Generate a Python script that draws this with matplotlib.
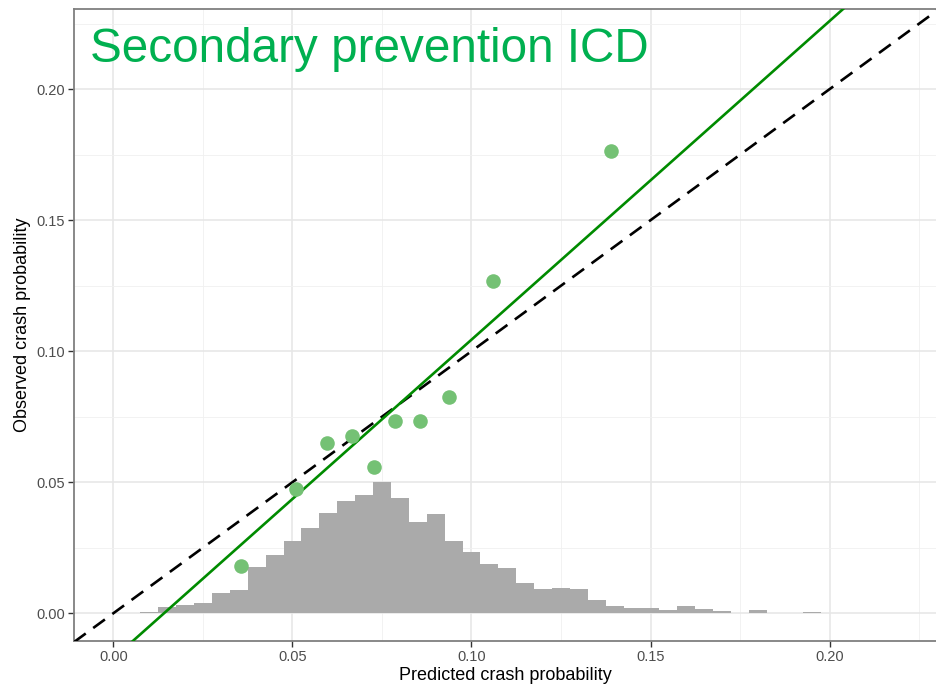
import matplotlib.pyplot as plt
from matplotlib.ticker import MultipleLocator

plt.rcParams['font.family'] = ['Liberation Sans', 'DejaVu Sans']

# Histogram of predicted probabilities (bin centres, heights)
bin_centers = [0.010, 0.015, 0.020, 0.025, 0.030, 0.035, 0.040, 0.045, 0.050, 0.055,
               0.060, 0.065, 0.070, 0.075, 0.080, 0.085, 0.090, 0.095, 0.100, 0.105,
               0.110, 0.115, 0.120, 0.125, 0.130, 0.135, 0.140, 0.145, 0.150, 0.155,
               0.160, 0.165, 0.170, 0.175, 0.180, 0.185, 0.190, 0.195, 0.200, 0.205,
               0.210, 0.215, 0.220]
bin_heights = [0.0004, 0.0022, 0.0032, 0.0038, 0.0079, 0.0089, 0.0178, 0.0221, 0.0275, 0.0324,
               0.0382, 0.0430, 0.0452, 0.0500, 0.0439, 0.0347, 0.0378, 0.0274, 0.0233, 0.0187,
               0.0171, 0.0117, 0.0092, 0.0095, 0.0094, 0.0051, 0.0029, 0.0019, 0.0020, 0.0013,
               0.0028, 0.0018, 0.0009, 0.0002, 0.0011, 0.0001, 0.0001, 0.0006, 0.0001, 0.0002,
               0.0002, 0.0001, 0.0002]
bin_width = 0.005

# Calibration points (decile groups)
pred = [0.0357, 0.0510, 0.0596, 0.0666, 0.0728, 0.0787, 0.0855, 0.0936, 0.1060, 0.1390]
obs = [0.0181, 0.0473, 0.0649, 0.0678, 0.0557, 0.0735, 0.0735, 0.0824, 0.1266, 0.1765]

# Fitted calibration line
cal_intercept = -0.0172
cal_slope = 1.216

title = 'Secondary prevention ICD'

fig = plt.figure(figsize=(9.37, 6.86), dpi=100)
ax = fig.add_axes([0.079, 0.0656, 0.921, 0.9213])

ax.bar(bin_centers, bin_heights, width=bin_width, color='#aaaaaa', linewidth=0, zorder=2)

xlim = (-0.011, 0.230)
ylim = (-0.0106, 0.2306)
ax.plot(xlim, xlim, color='black', linestyle=(0, (5.5, 3.5)), linewidth=1.9, zorder=3)
ax.plot(xlim, [cal_intercept + cal_slope * v for v in xlim], color='#008b00', linewidth=1.9, zorder=4)

ax.scatter(pred, obs, s=110, color='#74c174', linewidths=0, zorder=5)

ax.set_xlim(*xlim)
ax.set_ylim(*ylim)

ax.xaxis.set_major_locator(MultipleLocator(0.05))
ax.yaxis.set_major_locator(MultipleLocator(0.05))
ax.xaxis.set_minor_locator(MultipleLocator(0.025))
ax.yaxis.set_minor_locator(MultipleLocator(0.025))
ax.xaxis.set_major_formatter(lambda v, p: f'{v:.2f}')
ax.yaxis.set_major_formatter(lambda v, p: f'{v:.2f}')

ax.grid(which='major', color='#e6e6e6', linewidth=1.1, zorder=0)
ax.grid(which='minor', color='#f0f0f0', linewidth=0.6, zorder=0)
ax.set_axisbelow(True)

ax.tick_params(which='major', length=4, width=1, color='#333333', labelsize=10.5,
               labelcolor='#4d4d4d', pad=2.5)
ax.tick_params(which='minor', length=0)
for s in ax.spines.values():
    s.set_color('#7f7f7f')
    s.set_linewidth(1.3)
ax.spines['right'].set_visible(False)

ax.set_xlabel('Predicted crash probability', fontsize=13, labelpad=2)
ax.set_ylabel('Observed crash probability', fontsize=13, labelpad=4)

ax.text(0.018, 0.972, title, transform=ax.transAxes, ha='left', va='top',
        fontsize=34.3, color='#00b050')

fig.savefig('out.png', dpi=100)
